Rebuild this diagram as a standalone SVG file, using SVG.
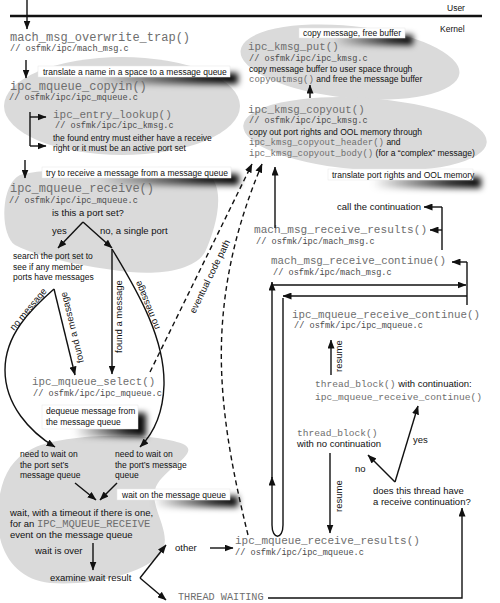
<svg xmlns="http://www.w3.org/2000/svg" width="500" height="603" viewBox="0 0 500 603">
<defs>
<style>
.fn{font-family:"Liberation Mono","DejaVu Sans Mono",monospace;fill:#6e6e6e}
.cm{font-family:"Liberation Mono","DejaVu Sans Mono",monospace;font-size:8.6px;fill:#4a4a4a}
.t{font-family:"Liberation Sans",Arial,sans-serif;fill:#111;font-size:8.5px}
.t9{font-family:"Liberation Sans",Arial,sans-serif;fill:#111;font-size:9.5px}
.blob{fill:#dadada}
.lbl{fill:#fff;stroke:#e6e6e6;stroke-width:0.5}
.shd{fill:url(#sg);filter:url(#bl)}
.ln{stroke:#111;stroke-width:1.4;fill:none}
.ar{marker-end:url(#ah)}
.dash{stroke-dasharray:5 3.5}
</style>
<marker id="ah" markerWidth="9" markerHeight="7" refX="8.5" refY="3.5" orient="auto" markerUnits="userSpaceOnUse"><path d="M0,0 L9,3.5 L0,7 Z" fill="#111"/></marker>
<linearGradient id="sg" x1="0" y1="0" x2="1" y2="0">
<stop offset="0.25" stop-color="#000" stop-opacity="0"/>
<stop offset="0.8" stop-color="#000" stop-opacity="0.85"/>
<stop offset="1" stop-color="#000" stop-opacity="1"/>
</linearGradient>
<filter id="bl" x="-30%" y="-150%" width="160%" height="400%">
<feGaussianBlur stdDeviation="3.2"/>
</filter>
</defs>
<rect width="500" height="603" fill="#fff"/>

<g id="blobs">
<ellipse class="blob" cx="122" cy="106" rx="118" ry="49"/>
<path class="blob" d="M20,175 C60,165 180,165 212,178 C225,195 215,230 205,252 C195,270 160,275 130,272 C90,268 40,258 15,245 C0,235 0,185 20,175 Z"/>
<path class="blob" d="M30,450 C60,432 160,432 185,445 C200,455 160,470 155,490 C150,510 175,535 160,555 C140,575 90,586 50,583 C15,580 -5,550 -2,510 C0,480 10,460 30,450 Z"/>
<ellipse class="blob" cx="350" cy="62" rx="110" ry="36" transform="rotate(6 350 62)"/>
<ellipse class="blob" cx="365" cy="134" rx="122" ry="36" transform="rotate(4 365 134)"/>
</g>

<g id="boundary">
<line x1="10" y1="16" x2="482" y2="16" stroke="#111" stroke-width="2.5"/>
<text class="t" x="447" y="10.5" font-size="11">User</text>
<text class="t" x="440" y="32" font-size="11">Kernel</text>
</g>

<g id="n-overwrite-trap">
<text class="fn" x="10" y="41" font-size="12">mach_msg_overwrite_trap()</text>
<text class="cm" x="10" y="51">// osfmk/ipc/mach_msg.c</text>
</g>

<g id="n-copyin">
<rect class="shd" x="46" y="73" width="192" height="11"/>
<rect class="lbl" x="38" y="66" width="192" height="11"/>
<text class="t" x="43" y="74.5">translate a name in a space to a message queue</text>
<text class="fn" x="10" y="90" font-size="12">ipc_mqueue_copyin()</text>
<text class="cm" x="9" y="100">// osfmk/ipc/ipc_mqueue.c</text>
</g>

<g id="n-entry-lookup">
<text class="fn" x="53" y="118" font-size="11">ipc_entry_lookup()</text>
<text class="cm" x="55" y="128">// osfmk/ipc/ipc_kmsg.c</text>
<text class="t" x="53" y="141">the found entry must either have a receive</text>
<text class="t" x="53" y="151">right or it must be an active port set</text>
</g>

<g id="n-receive">
<rect class="shd" x="50" y="174" width="189" height="11"/>
<rect class="lbl" x="42" y="167" width="189" height="11"/>
<text class="t" x="46" y="175.5">try to receive a message from a message queue</text>
<text class="fn" x="10" y="192" font-size="12">ipc_mqueue_receive()</text>
<text class="cm" x="9" y="203">// osfmk/ipc/ipc_mqueue.c</text>
<text class="t9" x="52" y="216">is this a port set?</text>
<text class="t9" x="52" y="234">yes</text>
<text class="t9" x="100" y="234">no, a single port</text>
</g>

<g id="n-search">
<text class="t" x="13" y="259">search the port set to</text>
<text class="t" x="13" y="269.5">see if any member</text>
<text class="t" x="13" y="280">ports have messages</text>
</g>

<g id="n-select">
<text class="fn" x="32" y="385" font-size="10.8">ipc_mqueue_select()</text>
<text class="cm" x="33" y="396">// osfmk/ipc/ipc_mqueue.c</text>
<rect class="shd" x="50" y="413" width="96" height="24"/>
<rect class="lbl" x="42" y="405" width="96" height="24"/>
<text class="t" x="46" y="413.5">dequeue message from</text>
<text class="t" x="46" y="424.5">the message queue</text>
</g>

<g id="n-wait">
<text class="t" x="20" y="457">need to wait on</text>
<text class="t" x="20" y="467.5">the port set’s</text>
<text class="t" x="20" y="478">message queue</text>
<text class="t" x="115" y="457">need to wait on</text>
<text class="t" x="115" y="467.5">the port’s message</text>
<text class="t" x="115" y="478">queue</text>
<rect class="shd" x="125" y="496" width="113" height="11"/>
<rect class="lbl" x="117" y="489" width="113" height="11"/>
<text class="t" x="122" y="497.5">wait on the message queue</text>
<text class="t9" x="10" y="516">wait, with a timeout if there is one,</text>
<text class="t9" x="10" y="527">for an <tspan class="fn" font-size="10.5">IPC_MQUEUE_RECEIVE</tspan></text>
<text class="t9" x="10" y="538">event on the message queue</text>
<text class="t9" x="35" y="554">wait is over</text>
<text class="t9" x="50" y="581">examine wait result</text>
<text class="t9" x="175" y="551">other</text>
</g>

<g id="n-thread-waiting">
<text class="fn" x="178" y="600" font-size="10.2">THREAD WAITING</text>
</g>

<g id="n-kmsg-put">
<rect class="shd" x="307" y="35" width="106" height="10"/>
<rect class="lbl" x="299" y="28" width="106" height="10"/>
<text class="t" x="303" y="36">copy message, free buffer</text>
<text class="fn" x="248" y="49.5" font-size="10.8">ipc_kmsg_put()</text>
<text class="cm" x="249" y="61">// osfmk/ipc/ipc_kmsg.c</text>
<text class="t" x="249" y="72">copy message buffer to user space through</text>
<text class="t" x="249" y="82"><tspan class="fn" font-size="9">copyoutmsg()</tspan> and free the message buffer</text>
</g>

<g id="n-kmsg-copyout">
<text class="fn" x="248" y="113" font-size="10.8">ipc_kmsg_copyout()</text>
<text class="cm" x="249" y="122.5">// osfmk/ipc/ipc_kmsg.c</text>
<text class="t" x="249" y="134.5">copy out port rights and OOL memory through</text>
<text class="t" x="249" y="145"><tspan class="fn" font-size="9">ipc_kmsg_copyout_header()</tspan> and</text>
<text class="t" x="249" y="155.5"><tspan class="fn" font-size="9">ipc_kmsg_copyout_body()</tspan> (for a “complex” message)</text>
<rect class="shd" x="336" y="177" width="145" height="11"/>
<rect class="lbl" x="328" y="169" width="145" height="11"/>
<text class="t" x="332" y="177.5">translate port rights and OOL memory</text>
</g>

<g id="n-call-continuation">
<text class="t9" x="337" y="210">call the continuation</text>
</g>

<g id="n-receive-results">
<text class="fn" x="254" y="233" font-size="11.1">mach_msg_receive_results()</text>
<text class="cm" x="256" y="243.5">// osfmk/ipc/mach_msg.c</text>
</g>

<g id="n-receive-continue">
<text class="fn" x="271" y="264" font-size="10.8">mach_msg_receive_continue()</text>
<text class="cm" x="273" y="275">// osfmk/ipc/mach_msg.c</text>
</g>

<g id="n-mq-receive-continue">
<text class="fn" x="292" y="318" font-size="10.8">ipc_mqueue_receive_continue()</text>
<text class="cm" x="294" y="328">// osfmk/ipc/ipc_mqueue.c</text>
</g>

<g id="n-thread-block-cont">
<text class="t9" x="315" y="387"><tspan class="fn" font-size="9.6">thread_block()</tspan> with continuation:</text>
<text class="fn" x="315" y="400" font-size="9.6">ipc_mqueue_receive_continue()</text>
</g>

<g id="n-thread-block-nocont">
<text class="fn" x="297" y="436" font-size="9.6">thread_block()</text>
<text class="t9" x="297" y="447">with no continuation</text>
</g>

<g id="n-continuation-q">
<text class="t9" x="373" y="494">does this thread have</text>
<text class="t9" x="373" y="505">a receive continuation?</text>
<text class="t9" x="413" y="443">yes</text>
<text class="t9" x="355" y="472">no</text>
</g>

<g id="n-mq-receive-results">
<text class="fn" x="235" y="544" font-size="11">ipc_mqueue_receive_results()</text>
<text class="cm" x="235" y="555">// osfmk/ipc/ipc_mqueue.c</text>
</g>

<g id="connectors">
<path class="ln ar" d="M27,0 V29"/>
<path class="ln ar" d="M26,60 V78"/>
<path class="ln" d="M30,112 V146"/>
<path class="ln ar" d="M30,117 H46"/>
<path class="ln ar" d="M30,146 H46"/>
<path class="ln ar" d="M25,160 V178"/>
<path class="ln ar" d="M83,222 L58,248"/>
<path class="ln ar" d="M83,222 L112,248"/>
<path class="ln ar" d="M54,289 C30,310 5,335 5,370 C5,405 30,432 55,447"/>
<path class="ln ar" d="M54,289 L75,375"/>
<path class="ln ar" d="M112,249 V374"/>
<path class="ln ar" d="M112,249 C140,295 165,340 164,385 C163,415 152,435 140,447"/>
<text class="t9" transform="translate(14,331) rotate(-50)">no message</text>
<text class="t9" transform="translate(84,362) rotate(-104)">found a message</text>
<text class="t9" transform="translate(122,353) rotate(-90)">found a message</text>
<text class="t9" transform="translate(160,328) rotate(-112)">no message</text>
<path class="ln ar" d="M75,483 L96,500"/>
<path class="ln ar" d="M117,483 L100,500"/>
<path class="ln ar" d="M93,543 V570"/>
<path class="ln ar" d="M140,578 L166,545"/>
<path class="ln ar" d="M140,578 L166,600"/>
<path class="ln ar" d="M210,548 H233"/>
<path class="ln ar" d="M268,598 H462 V508"/>
<path class="ln ar" d="M395,482 L418,406"/>
<path class="ln ar" d="M395,482 L368,455"/>
<path class="ln ar" d="M330,453 V533"/>
<text class="t9" transform="translate(342,512) rotate(-90)">resume</text>
<path class="ln ar" d="M331,375 V340"/>
<text class="t9" transform="translate(342,372) rotate(-90)">resume</text>
<path class="ln ar" d="M283,298 V525 C283,540 272,540 272,525 V477"/>
<path class="ln ar" d="M272,478 V282"/>
<path class="ln ar" d="M272,285 H466"/>
<path class="ln ar" d="M467,296 H283"/>
<path class="ln" d="M467,262 V305"/>
<path class="ln ar" d="M467,262 H452"/>
<path class="ln" d="M442,207 V250"/>
<path class="ln ar" d="M442,207 H424"/>
<path class="ln ar" d="M442,230 H430"/>
<path class="ln ar" d="M275,228 V167"/>
<path class="ln ar" d="M310,98 V85"/>
<path class="ln ar dash" d="M150,372 L252,164"/>
<path class="ln ar dash" d="M248,535 C232,470 218,400 222,330 C226,260 245,205 262,164"/>
<text class="t9" transform="translate(195,314) rotate(-64)">eventual code path</text>
</g>
</svg>
